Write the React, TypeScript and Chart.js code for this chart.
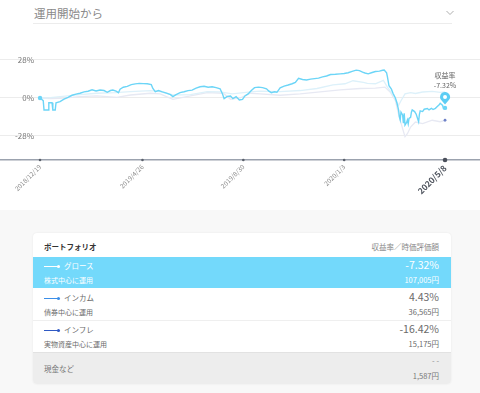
import React, { useEffect, useRef } from "react";
import { Chart, registerables } from "chart.js";

Chart.register(...registerables);

// x values are days since 2018/12/19
const tickDays = [0, 128, 254, 380, 506];
const tickLabels = ["2018/12/19", "2019/4/26", "2019/8/30", "2020/1/3", "2020/5/8"];
const yTicks = [-28, 0, 28];

const growthDays = [0, 4, 5, 10, 11, 15, 16, 19, 20, 25, 30, 35, 40, 45, 50, 55, 60, 65, 70, 75, 80, 84, 88, 91, 95, 98, 100, 104, 109, 114, 119, 124, 129, 134, 139, 141, 144, 148, 153, 158, 163, 166, 170, 175, 180, 185, 190, 195, 200, 205, 210, 215, 220, 225, 228, 230, 234, 238, 241, 245, 249, 253, 256, 260, 264, 268, 273, 278, 283, 286, 289, 293, 296, 300, 305, 310, 315, 319, 323, 328, 333, 338, 343, 348, 353, 358, 363, 369, 375, 380, 385, 390, 395, 399, 403, 406, 410, 414, 419, 424, 428, 430, 433, 434, 436, 439, 441, 444, 446, 448, 449, 450, 451, 453, 454, 455, 456, 458, 459, 460, 461, 463, 464, 465, 468, 470, 473, 474, 475, 478, 480, 484, 486, 489, 491, 494, 496, 499, 500, 503, 504, 506];
const growthValues = [0, -2, -8.8, -8.8, -3.5, -3.5, -8.8, -8.8, -3.5, -2.7, -0.8, 0.5, 2, 2.8, 3.5, 4.5, 5, 6, 5.2, 5.9, 5.5, 4.2, 5.5, 5.9, 5, 3.9, 6.5, 7.9, 8.6, 9.8, 10.4, 10.8, 10.6, 10.5, 9.8, 7, 4.7, 5.5, 4.5, 3.6, 2.5, 1, 2.5, 3.9, 4.6, 5.4, 5.8, 7.2, 8.3, 8.6, 7.9, 8.3, 7.6, 6.8, 3, -0.5, 1.2, 1.5, -0.5, 1, -1.5, -1, 1.5, 3, 5.5, 7.6, 8, 7.6, 6.8, 5, 3.9, 4.6, 4.2, 7.5, 8.8, 9.6, 10.5, 11.5, 14.5, 13.6, 13.3, 13.9, 14.3, 14.6, 15.6, 16.2, 17.3, 17.5, 17.8, 18, 18.6, 19.6, 20.5, 20.2, 19, 18.4, 17.8, 18.6, 19.5, 19.8, 20.4, 20.6, 18.5, 15.7, 9, 6.5, 3.5, 0, -3.9, -9, -14, -16.2, -10.5, -12.5, -18.6, -11.3, -19.9, -18, -16.2, -19, -15, -14.2, -10.5, -8.8, -10, -12, -17.5, -12, -9.5, -10, -8.3, -7.8, -8.8, -7.6, -8.5, -7.6, -6.5, -4.8, -3.9, -5.5, -7.6, -7.32];

const incomeDays = [0, 13, 25, 38, 50, 71, 94, 113, 138, 150, 166, 188, 209, 225, 240, 263, 275, 300, 325, 346, 366, 381, 391, 404, 409, 419, 429, 434, 440, 444, 448, 451, 456, 463, 469, 478, 490, 500, 506];
const incomeValues = [0, 0.3, 1, 1.8, 2.5, 3.5, 4, 4.7, 5.4, 4.7, 2.2, 2.5, 4.7, 4.5, 3, 4.5, 5, 4.7, 5.5, 7, 9.6, 10.5, 12.7, 11.5, 10.8, 10.5, 13, 8, 3, -1, -5.4, -2, 3, 3.9, 3.3, 4.4, 4.9, 4.2, 4.43];

const inflationDays = [0, 13, 25, 50, 71, 96, 113, 138, 150, 166, 188, 209, 229, 238, 250, 263, 275, 300, 325, 350, 375, 400, 419, 431, 438, 444, 448, 453, 456, 459, 463, 469, 478, 490, 500, 506];
const inflationValues = [0, -0.5, -0.3, 1, 1.5, 0.5, 2.2, 3.5, 3, -1, 1.5, 3.9, 3.5, -1, 0, 3.5, 3, 2, 3, 4.5, 6, 7, 7.3, 8, 4, -2, -12, -22.6, -28.5, -26.3, -21.4, -17.7, -18.9, -16.4, -17.5, -16.42];

const pinLabel = "収益率";
const pinValue = "-7.32%";

const rows = [
  { name: "グロース", desc: "株式中心に運用", rate: "-7.32%", amount: "107,005円", color: "#ffffff", active: true },
  { name: "インカム", desc: "債券中心に運用", rate: "4.43%", amount: "36,565円", color: "#3b8ee8", active: false },
  { name: "インフレ", desc: "実物資産中心に運用", rate: "-16.42%", amount: "15,175円", color: "#2f59c4", active: false },
];
const cashLabel = "現金など";
const cashRate = "- -";
const cashAmount = "1,587円";

const GROWTH = "#6cd5f7";
const FONT = "'Noto Sans CJK JP', 'Noto Sans', sans-serif";

const toXY = (days: number[], vals: number[]) => days.map((d, i) => ({ x: d, y: vals[i] }));

function ChartView() {
  const ref = useRef<HTMLCanvasElement | null>(null);
  useEffect(() => {
    if (!ref.current) return;
    const extras = {
      id: "extras",
      afterDraw(chart: any) {
        const ctx = chart.ctx;
        const xs = chart.scales.x;
        const ys = chart.scales.y;
        const axisY = chart.chartArea.bottom;
        ctx.save();
        tickDays.forEach((d, i) => {
          const px = xs.getPixelForValue(d);
          ctx.beginPath();
          ctx.fillStyle = i === tickDays.length - 1 ? "#4a4f5a" : "#5a606b";
          ctx.arc(px, axisY, i === tickDays.length - 1 ? 2.3 : 1.3, 0, Math.PI * 2);
          ctx.fill();
        });
        // pin at last growth value
        const lx = xs.getPixelForValue(growthDays[growthDays.length - 1]);
        const ly = ys.getPixelForValue(growthValues[growthValues.length - 1]);
        const cy = ly - 11;
        const r = 5;
        ctx.beginPath();
        ctx.fillStyle = "#5ccdf4";
        ctx.arc(lx, cy, r, Math.PI * 0.8, Math.PI * 2.2);
        ctx.lineTo(lx, ly - 3.5);
        ctx.closePath();
        ctx.fill();
        ctx.beginPath();
        ctx.fillStyle = "#ffffff";
        ctx.arc(lx, cy, 2, 0, Math.PI * 2);
        ctx.fill();
        ctx.fillStyle = "#666";
        ctx.font = `7px ${FONT}`;
        ctx.textAlign = "center";
        ctx.textBaseline = "middle";
        ctx.fillText(pinLabel, lx, cy - 22);
        ctx.fillText(pinValue, lx, cy - 12);
        ctx.restore();
      },
    };
    const lastIdx = (arr: number[]) => arr.length - 1;
    const chart = new Chart(ref.current, {
      type: "line",
      data: {
        datasets: [
          {
            data: toXY(growthDays, growthValues),
            borderColor: GROWTH,
            backgroundColor: GROWTH,
            borderWidth: 1.4,
            pointRadius: (c: any) => (c.dataIndex === 0 || c.dataIndex === lastIdx(growthDays) ? 2.2 : 0),
            pointBorderWidth: 0,
            tension: 0,
          },
          {
            data: toXY(incomeDays, incomeValues),
            borderColor: "#ddf1fa",
            backgroundColor: "#ddf1fa",
            borderWidth: 1.3,
            pointRadius: 0,
            tension: 0,
          },
          {
            data: toXY(inflationDays, inflationValues),
            borderColor: "#e7e9f3",
            backgroundColor: "#6f82c8",
            borderWidth: 1.3,
            pointRadius: (c: any) => (c.dataIndex === lastIdx(inflationDays) ? 1.4 : 0),
            pointBorderWidth: 0,
            tension: 0,
          },
        ],
      } as any,
      options: {
        animation: false,
        responsive: false,
        maintainAspectRatio: false,
        layout: { padding: 0, autoPadding: false },
        plugins: { legend: { display: false }, tooltip: { enabled: false } },
        scales: {
          x: {
            type: "linear",
            min: -50,
            max: 549.7,
            afterBuildTicks: (s: any) => {
              s.ticks = tickDays.map((v) => ({ value: v }));
            },
            afterFit: (s: any) => {
              s.height = 35;
              s.paddingLeft = 0;
              s.paddingRight = 0;
            },
            grid: { display: false, drawTicks: false },
            border: { display: true, color: "#9ba2ae", width: 1.5 },
            ticks: {
              autoSkip: false,
              minRotation: 45,
              maxRotation: 45,
              padding: 3,
              callback: (_v: any, i: number) => tickLabels[i],
              color: (c: any) => (c.index === tickLabels.length - 1 ? "#4d525c" : "#8c8c8c"),
              font: (c: any) =>
                c.index === tickLabels.length - 1
                  ? { family: FONT, size: 8.5, weight: "bold" }
                  : { family: FONT, size: 6.5 },
            },
          },
          y: {
            type: "linear",
            min: -45.7,
            max: 50.1,
            afterBuildTicks: (s: any) => {
              s.ticks = yTicks.map((v) => ({ value: v }));
            },
            afterFit: (s: any) => {
              s.width = 0;
              s.paddingTop = 0;
              s.paddingBottom = 0;
            },
            grid: { color: "#ececec", drawTicks: false, lineWidth: 1 },
            border: { display: false },
            ticks: {
              mirror: true,
              crossAlign: "far",
              padding: 15,
              color: "#7a7a7a",
              font: { family: FONT, size: 8 },
              callback: (v: any) => `${v}%`,
            },
          },
        },
      } as any,
      plugins: [extras],
    });
    return () => chart.destroy();
  }, []);
  return <canvas ref={ref} width={480} height={165} style={{ display: "block", position: "absolute", left: 0, top: 30 }} />;
}

function LegendIcon({ color }: { color: string }) {
  return (
    <span style={{ position: "relative", display: "inline-block", width: 16, height: 6, marginRight: 4, verticalAlign: "middle" }}>
      <span style={{ position: "absolute", left: 0, top: 2.5, width: 14, height: 1, background: color }} />
      <span style={{ position: "absolute", left: 13, top: 1.5, width: 3, height: 3, borderRadius: 2, background: color }} />
    </span>
  );
}

export default function App() {
  useEffect(() => {
    document.body.style.margin = "0";
  }, []);
  return (
    <div style={{ width: 480, height: 393, position: "relative", fontFamily: FONT, background: "#fff", overflow: "hidden" }}>
      <div style={{ position: "absolute", left: 0, top: 0, width: 480, height: 210, background: "#fff" }}>
        <div style={{ position: "absolute", left: 34, top: 4, fontSize: 11.5, color: "#8a8a8a", lineHeight: "18px" }}>運用開始から</div>
        <svg style={{ position: "absolute", left: 446, top: 10 }} width={8} height={6}>
          <polyline points="0.5,1 4,4.5 7.5,1" fill="none" stroke="#9a9a9a" strokeWidth={0.8} />
        </svg>
        <div style={{ position: "absolute", left: 33, top: 23, width: 419, height: 1, background: "#ececec" }} />
        <ChartView />
      </div>
      <div style={{ position: "absolute", left: 0, top: 210, width: 480, height: 183, background: "#f8f8f8" }}>
        <div
          style={{
            position: "absolute",
            left: 33,
            top: 23,
            width: 418,
            height: 151,
            background: "#fff",
            borderRadius: 4,
            boxShadow: "0 0 2px rgba(0,0,0,0.08)",
            overflow: "hidden",
          }}
        >
          <div style={{ position: "absolute", left: 11, top: 9, fontSize: 7.5, fontWeight: "bold", color: "#333", lineHeight: "10px" }}>ポートフォリオ</div>
          <div style={{ position: "absolute", right: 12, top: 9, fontSize: 7.5, color: "#888", lineHeight: "10px" }}>収益率／時価評価額</div>
          {rows.map((r, i) => {
            const top = 24 + i * 32;
            const fg = r.active ? "#ffffff" : "#6a6a6a";
            return (
              <div
                key={r.name}
                style={{
                  position: "absolute",
                  left: 0,
                  top,
                  width: 418,
                  height: 31,
                  background: r.active ? "#73d9fb" : "#fff",
                  borderBottom: i === 1 ? "1px solid #efefef" : "none",
                }}
              >
                <div style={{ position: "absolute", left: 11, top: 3, fontSize: 7.5, color: fg, lineHeight: "11px", whiteSpace: "nowrap" }}>
                  <LegendIcon color={r.color} />
                  {r.name}
                </div>
                <div style={{ position: "absolute", left: 11, top: 18, fontSize: 7, color: fg, lineHeight: "10px" }}>{r.desc}</div>
                <div style={{ position: "absolute", right: 12, top: 1, fontSize: 10.5, color: fg, lineHeight: "14px" }}>{r.rate}</div>
                <div style={{ position: "absolute", right: 12, top: 18, fontSize: 7.5, color: fg, lineHeight: "10px" }}>{r.amount}</div>
              </div>
            );
          })}
          <div style={{ position: "absolute", left: 0, top: 119, width: 418, height: 32, background: "#ededed", borderTop: "1px solid #e2e2e2" }}>
            <div style={{ position: "absolute", left: 11, top: 11, fontSize: 7.5, color: "#777", lineHeight: "10px" }}>{cashLabel}</div>
            <div style={{ position: "absolute", right: 12, top: 3, fontSize: 7.5, color: "#888", lineHeight: "10px" }}>{cashRate}</div>
            <div style={{ position: "absolute", right: 12, top: 18, fontSize: 7.5, color: "#777", lineHeight: "10px" }}>{cashAmount}</div>
          </div>
        </div>
      </div>
    </div>
  );
}
